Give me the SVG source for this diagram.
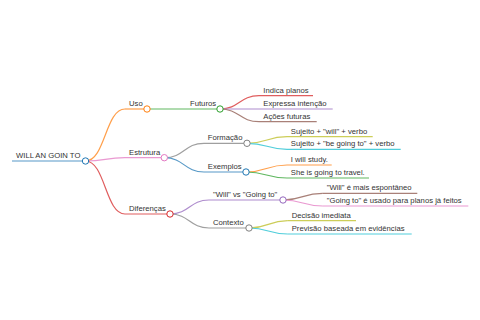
<svg xmlns="http://www.w3.org/2000/svg" width="480" height="320" viewBox="0 0 480 320">
<style>
.t{font-family:"Liberation Sans",Arial,Helvetica,sans-serif;font-size:7.7px;fill:#333}
.l{fill:none;stroke-width:1.2}
.n{fill:#fff;stroke-width:1}
.c0{stroke:#1f77b4}.c1{stroke:#ff7f0e}.c2{stroke:#2ca02c}.c3{stroke:#d62728}.c4{stroke:#9467bd}
.c5{stroke:#8c564b}.c6{stroke:#e377c2}.c7{stroke:#7f7f7f}.c8{stroke:#bcbd22}.c9{stroke:#17becf}
</style>
<rect width="480" height="320" fill="#fff"/>
<g id="connectors" opacity="0.75">
<path class="l c1" d="M85.5,161 C105.3,161 105.3,109 125,109"/>
<path class="l c6" d="M85.5,161 C105.3,161 105.3,157.7 125,157.7"/>
<path class="l c3" d="M85.5,161 C105.3,161 105.3,214 125,214"/>
<path class="l c2" d="M147,109 L186,109"/>
<path class="l c3" d="M220,109 C239.5,109 239.5,95.7 259,95.7"/>
<path class="l c4" d="M220,109 L259,109"/>
<path class="l c5" d="M220,109 C239.5,109 239.5,121.7 259,121.7"/>
<path class="l c7" d="M164.3,157.7 C184.2,157.7 184.2,143.3 204,143.3"/>
<path class="l c0" d="M164.3,157.7 C184.2,157.7 184.2,172 204,172"/>
<path class="l c8" d="M247,143.3 C267,143.3 267,136.7 287,136.7"/>
<path class="l c9" d="M247,143.3 C267,143.3 267,149.3 287,149.3"/>
<path class="l c1" d="M246,172 C266.5,172 266.5,165 287,165"/>
<path class="l c2" d="M246,172 C266.5,172 266.5,178 287,178"/>
<path class="l c4" d="M170,214 C189.5,214 189.5,200 209,200"/>
<path class="l c7" d="M170,214 C189.5,214 189.5,228 209,228"/>
<path class="l c5" d="M283,200 C302.8,200 302.8,193.3 322.7,193.3"/>
<path class="l c6" d="M283,200 C302.8,200 302.8,206 322.7,206"/>
<path class="l c8" d="M249,228 C268.3,228 268.3,220.7 287.7,220.7"/>
<path class="l c9" d="M249,228 C268.3,228 268.3,234 287.7,234"/>
</g>
<g id="root"><path class="l c0" d="M12,161 H85.5" opacity="0.75"/><text class="t" x="16" y="157.8">WILL AN GOIN TO</text><circle class="n c0" cx="85.5" cy="161" r="3.2"/></g>
<g id="uso"><path class="l c1" d="M125,109 H147" opacity="0.75"/><text class="t" x="129" y="105.8">Uso</text><circle class="n c1" cx="147" cy="109" r="3.2"/></g>
<g id="futuros"><path class="l c2" d="M186,109 H220" opacity="0.75"/><text class="t" x="190" y="105.8">Futuros</text><circle class="n c2" cx="220" cy="109" r="3.2"/></g>
<g id="indica"><path class="l c3" d="M259,95.7 H313" opacity="0.75"/><text class="t" x="263.3" y="92.5">Indica planos</text></g>
<g id="expressa"><path class="l c4" d="M259,109 H332.7" opacity="0.75"/><text class="t" x="263.3" y="105.8">Expressa intenção</text></g>
<g id="acoes"><path class="l c5" d="M259,121.7 H316.7" opacity="0.75"/><text class="t" x="263.3" y="118.5">Ações futuras</text></g>
<g id="estrutura"><path class="l c6" d="M125,157.7 H164.3" opacity="0.75"/><text class="t" x="129" y="154.5">Estrutura</text><circle class="n c6" cx="164.3" cy="157.7" r="3.2"/></g>
<g id="formacao"><path class="l c7" d="M204,143.3 H247" opacity="0.75"/><text class="t" x="207.8" y="140.1">Formação</text><circle class="n c7" cx="247" cy="143.3" r="3.2"/></g>
<g id="sujeito-will"><path class="l c8" d="M287,136.7 H372.7" opacity="0.75"/><text class="t" x="290.8" y="133.5">Sujeito + "will" + verbo</text></g>
<g id="sujeito-going"><path class="l c9" d="M287,149.3 H400.7" opacity="0.75"/><text class="t" x="290.8" y="146.1">Sujeito + "be going to" + verbo</text></g>
<g id="exemplos"><path class="l c0" d="M204,172 H246" opacity="0.75"/><text class="t" x="207.8" y="168.8">Exemplos</text><circle class="n c0" cx="246" cy="172" r="3.2"/></g>
<g id="i-will"><path class="l c1" d="M287,165 H331.7" opacity="0.75"/><text class="t" x="290.8" y="161.8">I will study.</text></g>
<g id="she-is"><path class="l c2" d="M287,178 H369" opacity="0.75"/><text class="t" x="290.8" y="174.8">She is going to travel.</text></g>
<g id="diferencas"><path class="l c3" d="M125,214 H170" opacity="0.75"/><text class="t" x="129" y="210.8">Diferenças</text><circle class="n c3" cx="170" cy="214" r="3.2"/></g>
<g id="will-vs-going"><path class="l c4" d="M209,200 H283" opacity="0.75"/><text class="t" x="213" y="196.8">"Will" vs "Going to"</text><circle class="n c4" cx="283" cy="200" r="3.2"/></g>
<g id="will-espontaneo"><path class="l c5" d="M322.7,193.3 H417.3" opacity="0.75"/><text class="t" x="326.7" y="190.1">"Will" é mais espontâneo</text></g>
<g id="going-planos"><path class="l c6" d="M322.7,206 H468.3" opacity="0.75"/><text class="t" x="326.7" y="202.8">"Going to" é usado para planos já feitos</text></g>
<g id="contexto"><path class="l c7" d="M209,228 H249" opacity="0.75"/><text class="t" x="213" y="224.8">Contexto</text><circle class="n c7" cx="249" cy="228" r="3.2"/></g>
<g id="decisao"><path class="l c8" d="M287.7,220.7 H356" opacity="0.75"/><text class="t" x="291.7" y="217.5">Decisão imediata</text></g>
<g id="previsao"><path class="l c9" d="M287.7,234 H411.7" opacity="0.75"/><text class="t" x="291.7" y="230.8">Previsão baseada em evidências</text></g>
</svg>
